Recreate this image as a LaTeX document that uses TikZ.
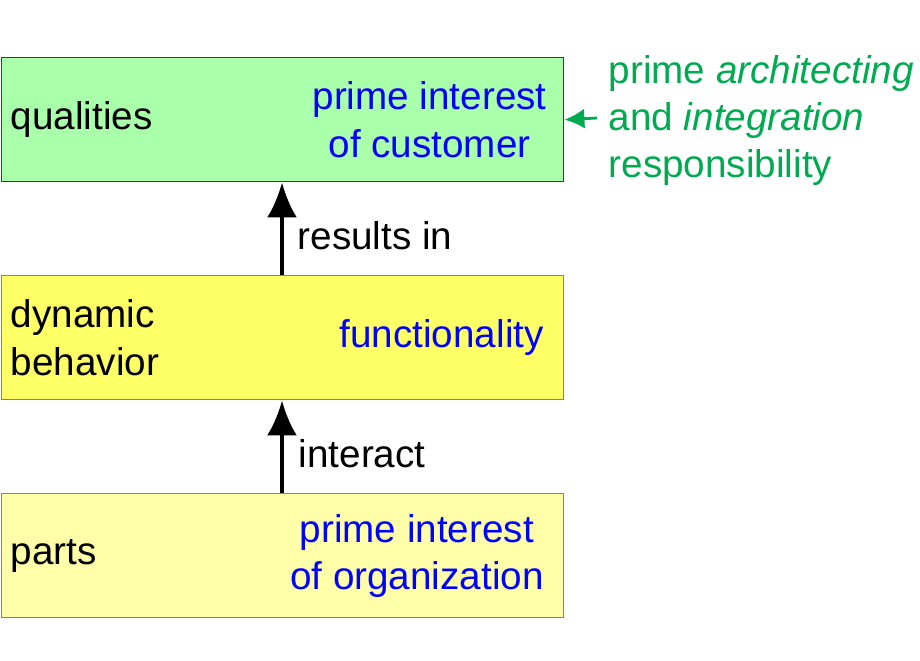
\documentclass[tikz,border=0pt]{standalone}
\usepackage{fontspec}
\setmainfont{Liberation Sans}
\usetikzlibrary{positioning,arrows.meta}
\definecolor{qualgreen}{RGB}{170,255,170}
\definecolor{dynyellow}{RGB}{255,255,102}
\definecolor{partyellow}{RGB}{255,255,170}
\definecolor{respgreen}{RGB}{0,170,80}
\definecolor{textblue}{RGB}{0,0,255}

\begin{document}
\begin{tikzpicture}[
  layer/.style={rectangle, draw=black!60!green, minimum width=5.62cm,
                minimum height=1.24cm, anchor=north west, inner sep=0pt},
  lbl/.style={font=\fontsize{11}{13.4}\selectfont, align=left, anchor=west, inner sep=0pt},
  note/.style={font=\fontsize{11}{13.4}\selectfont, align=center, anchor=east,
               text=textblue, inner sep=0pt},
  arrow/.style={-{Latex[length=3.5mm,width=3mm]}, line width=1.2pt}
]
\useasboundingbox (0,0) rectangle (9.2,6.6);

% Layers
\node[layer, fill=qualgreen] (qual) at (0.01,6.03) {};
\node[layer, fill=dynyellow, draw=black!50!yellow] (dyn) at (0.01,3.85) {};
\node[layer, fill=partyellow, draw=black!50!yellow] (part) at (0.01,1.67) {};

% Texts
\node[lbl, right=0.09cm of qual.west] (qualt) {qualities};
\node[note, left=0.17cm of qual.east] (qualn) {prime interest\\of customer};
\node[lbl, right=0.09cm of dyn.west] (dynt) {dynamic\\behavior};
\node[note, left=0.2cm of dyn.east] (dynn) {functionality};
\node[lbl, right=0.09cm of part.west] (partt) {parts};
\node[note, left=0.2cm of part.east] (partn) {prime interest\\of organization};

% Arrows
\draw[arrow] (2.82,0 |- dyn.north) coordinate (d1) -- (2.82,0 |- qual.south);
\draw[arrow] (2.82,0 |- part.north) coordinate (p1) -- (2.82,0 |- dyn.south);
\node[lbl] (res) at (2.97,4.24) {results in};
\node[lbl] (inter) at (2.98,2.06) {interact};

% Responsibility
\node[lbl, text=respgreen, anchor=north west] (resp) at (6.08,6.05)
  {prime \textit{architecting}\\and \textit{integration}\\responsibility};
\coordinate (rs) at (5.97,5.42);
\draw[-{Latex[length=2mm,width=2mm]}, respgreen, line width=0.8pt] (rs) -- (qual.east);
\end{tikzpicture}
\end{document}
